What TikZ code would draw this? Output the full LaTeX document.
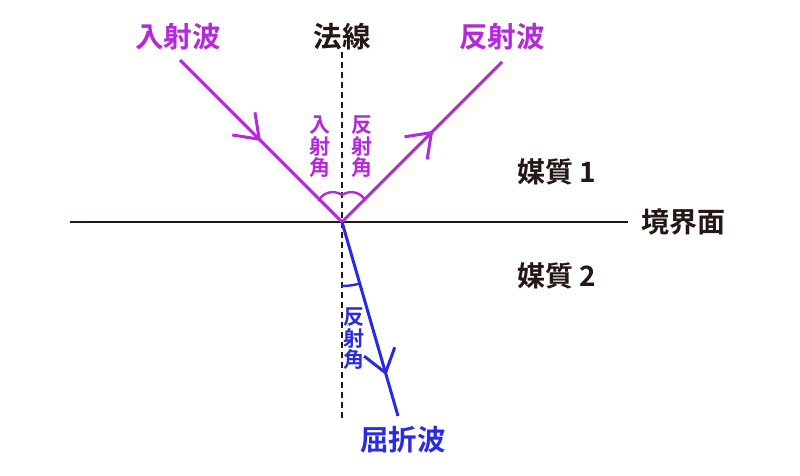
\documentclass[tikz,border=0pt]{standalone}
\usepackage{fontspec}
\setmainfont{Noto Sans CJK JP Bold}
\usetikzlibrary{arrows.meta,decorations.markings}
\definecolor{wpurple}{HTML}{B32AD8}
\definecolor{wblue}{HTML}{2A2AE0}
\definecolor{ink}{HTML}{231815}
\tikzset{
  ray/.style={line width=3pt},
  midarrow/.style={postaction={decorate},decoration={markings,
    mark=at position #1 with {\arrow{Straight Barb[length=22pt,width=32pt,line width=3pt]}}}},
  big/.style={font=\fontsize{28.5}{30}\selectfont},
  med/.style={font=\fontsize{28}{30}\selectfont},
  small/.style={font=\fontsize{21}{21.5}\selectfont, align=center, inner sep=0pt},
  anglearc/.style={line width=2.4pt},
}
\begin{document}
\begin{tikzpicture}[x=1pt,y=-1pt]
\useasboundingbox (0,0) rectangle (800,475);
\coordinate (O) at (342,222);
\coordinate (inc) at (180,60);
\coordinate (ref) at (502,62);
\coordinate (rfr) at (398,416);
\coordinate (nt) at (342,52);
\coordinate (nb) at (342,420);
\coordinate (bl) at (70,222);
\coordinate (br) at (628,222);
% normal
\draw[ink, line width=1.8pt, dash pattern=on 6pt off 4pt] (nt) -- (nb);
% boundary
\draw[ink, line width=2.6pt] (bl) -- (br);
% rays
\draw[wpurple, ray, midarrow=0.50] (inc) -- (O);
\draw[wpurple, ray, midarrow=0.57] (O) -- (ref);
\draw[wblue, ray, midarrow=0.79] (O) -- (rfr);
% angle arcs
\coordinate (a1) at (318.5,201);
\coordinate (a2) at (342,195);
\coordinate (a3) at (365.5,201);
\draw[wpurple, anglearc] (a1) .. controls (322,193) and (333,189) .. (a2);
\draw[wpurple, anglearc] (a2) .. controls (351,189) and (362,193) .. (a3);
\draw[wblue, anglearc] (O) ++(90:64) arc[start angle=90, end angle=73.8, radius=64];
% labels
\node[big, wpurple] (linc) at (178,37) {入射波};
\node[big, ink] (lnorm) at (342,37) {法線};
\node[big, wpurple] (lref) at (502,37) {反射波};
\node[big, wblue] (lrfr) at (403,440) {屈折波};
\node[med, ink, anchor=west] (lb) at (638,222) {境界面};
\node[med, ink] (m1) at (557,172) {媒質 1};
\node[med, ink] (m2) at (557,276) {媒質 2};
\node[small, wpurple] (ai) at (320,147) {入\\射\\角};
\node[small, wpurple] (ar) at (362,147) {反\\射\\角};
\node[small, wblue] (at2) at (354,339) {反\\射\\角};
\end{tikzpicture}
\end{document}
